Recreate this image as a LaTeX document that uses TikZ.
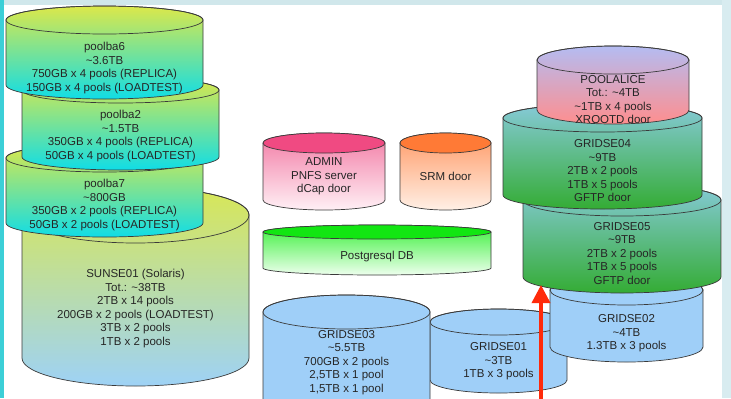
\documentclass[tikz,border=0pt]{standalone}
\usepackage{fontspec}
\setmainfont{Liberation Sans}
\usetikzlibrary{arrows.meta}
\definecolor{DrumEdge}{HTML}{3A3A3A}
\definecolor{LabelInk}{HTML}{262626}
\definecolor{BaTop}{HTML}{DCE84A}
\definecolor{BaBot}{HTML}{10DDE6}
\definecolor{SunTop}{HTML}{D8E756}
\definecolor{SunBot}{HTML}{9ED2F6}
\definecolor{AdmLid}{HTML}{F04A82}
\definecolor{AdmTop}{HTML}{F27AA4}
\definecolor{AdmBot}{HTML}{FFF0F5}
\definecolor{SrmLid}{HTML}{FF7A36}
\definecolor{SrmTop}{HTML}{FF9A66}
\definecolor{SrmBot}{HTML}{FFF0E6}
\definecolor{PgLid}{HTML}{12E612}
\definecolor{PgTop}{HTML}{3CF03C}
\definecolor{PgBot}{HTML}{EEFFEE}
\definecolor{GridBlue}{HTML}{9FCFF8}
\definecolor{GftpTop}{HTML}{86CAD8}
\definecolor{GftpBot}{HTML}{34AC34}
\definecolor{AliTop}{HTML}{B4BCF2}
\definecolor{AliBot}{HTML}{FF8E8E}
\definecolor{FeedRed}{HTML}{FF2A0A}
\definecolor{StripTop}{HTML}{D0E7EB}
\definecolor{StripLeft}{HTML}{3CCFD7}
\definecolor{StripRight}{HTML}{D8ECF0}

% drum: x-left, x-right, lid y, foot y, ellipse half height, body style, lid style
\newcommand{\drum}[7]{%
  \pgfmathsetmacro{\drumcx}{(#1+#2)/2}%
  \pgfmathsetmacro{\drumrx}{(#2-#1)/2}%
  \path[drum,#6] (#1,#3) -- (#1,#4)
    arc[start angle=180,end angle=0,x radius=\drumrx,y radius=#5]
    -- (#2,#3)
    arc[start angle=0,end angle=-180,x radius=\drumrx,y radius=#5] -- cycle;
  \path[lid,#7] (\drumcx,#3) ellipse[x radius=\drumrx,y radius=#5];
}

\begin{document}
\begin{tikzpicture}[x=1bp,y=-1bp,
  drum/.style={draw=DrumEdge,line width=0.7bp},
  lid/.style={draw=DrumEdge,line width=0.7bp},
  lbl/.style={align=center,inner sep=0pt,text=LabelInk,font=\fontsize{11.5bp}{13.5bp}\selectfont},
  bapool/.style={top color=BaTop,bottom color=BaBot},
  sunpool/.style={top color=SunTop,bottom color=SunBot},
  admpool/.style={top color=AdmTop,bottom color=AdmBot},
  srmpool/.style={top color=SrmTop,bottom color=SrmBot},
  pgpool/.style={top color=PgTop,bottom color=PgBot},
  gridpool/.style={fill=GridBlue},
  gftppool/.style={top color=GftpTop,bottom color=GftpBot},
  alipool/.style={top color=AliTop,bottom color=AliBot},
  feed/.style={draw=FeedRed,line width=3.5bp,-{Triangle[length=18bp,width=18bp]}},
]
\useasboundingbox (0,0) rectangle (731,398);
\clip (0,0) rectangle (731,398);
\fill[white] (0,0) rectangle (731,398);
\fill[StripTop] (0,0) rectangle (731,5);
\fill[StripLeft] (0,0) rectangle (4,398);
\fill[StripRight] (722,0) rectangle (731,398);

% left stack
\drum{22}{249}{215}{358}{28}{sunpool}{}
\node[lbl] (sunse01) at (135.5,308.5) {SUNSE01 (Solaris)\\Tot.: \textasciitilde38TB\\2TB x 14 pools\\200GB x 2 pools (LOADTEST)\\3TB x 2 pools\\1TB x 2 pools};
\drum{6}{203}{158}{223}{14}{bapool}{}
\node[lbl] (poolba7) at (104.5,205) {poolba7\\\textasciitilde800GB\\350GB x 2 pools (REPLICA)\\50GB x 2 pools (LOADTEST)};
\drum{22}{219}{90}{157}{13}{bapool}{}
\node[lbl] (poolba2) at (120.5,136) {poolba2\\\textasciitilde1.5TB\\350GB x 4 pools (REPLICA)\\50GB x 4 pools (LOADTEST)};
\drum{6}{203}{20}{85}{14}{bapool}{}
\node[lbl] (poolba6) at (104.5,68) {poolba6\\\textasciitilde3.6TB\\750GB x 4 pools (REPLICA)\\150GB x 4 pools (LOADTEST)};

% middle
\drum{263}{385}{143}{200}{10}{admpool}{fill=AdmLid}
\node[lbl] (admin) at (324,176.5) {ADMIN\\PNFS server\\dCap door};
\drum{400}{491}{143}{200}{10}{srmpool}{fill=SrmLid}
\node[lbl] (srm) at (445.5,176) {SRM door};
\drum{263}{491}{232}{268}{7}{pgpool}{fill=PgLid}
\node[lbl] (pgdb) at (377,257) {Postgresql DB};
\drum{430}{567}{322}{380}{13}{gridpool}{}
\node[lbl] (gridse01) at (498.5,361.5) {GRIDSE01\\\textasciitilde3TB\\1TB x 3 pools};
\drum{263}{430}{312}{420}{17}{gridpool}{}
\node[lbl] (gridse03) at (346.5,362.5) {GRIDSE03\\\textasciitilde5.5TB\\700GB x 2 pools\\2,5TB x 1 pool\\1,5TB x 1 pool};

% right stack
\drum{550}{703}{290}{347}{15}{gridpool}{}
\node[lbl] (gridse02) at (626.5,333.5) {GRIDSE02\\\textasciitilde4TB\\1.3TB x 3 pools};
\drum{523}{721}{200}{277}{16}{gftppool}{}
\node[lbl] (gridse05) at (622,253.5) {GRIDSE05\\\textasciitilde9TB\\2TB x 2 pools\\1TB x 5 pools\\GFTP door};
\drum{503}{702}{118}{195}{14}{gftppool}{}
\node[lbl] (gridse04) at (602.5,171) {GRIDSE04\\\textasciitilde9TB\\2TB x 2 pools\\1TB x 5 pools\\GFTP door};
\drum{537}{689}{60}{110}{14}{alipool}{}
\node[lbl] (poolalice) at (613,99.5) {POOLALICE\\Tot.: \textasciitilde4TB\\\textasciitilde1TB x 4 pools\\XROOTD door};

\coordinate (feedin) at (541,400);
\coordinate (g5foot) at (541,285);
\draw[feed] (feedin) -- (g5foot);
\end{tikzpicture}
\end{document}
